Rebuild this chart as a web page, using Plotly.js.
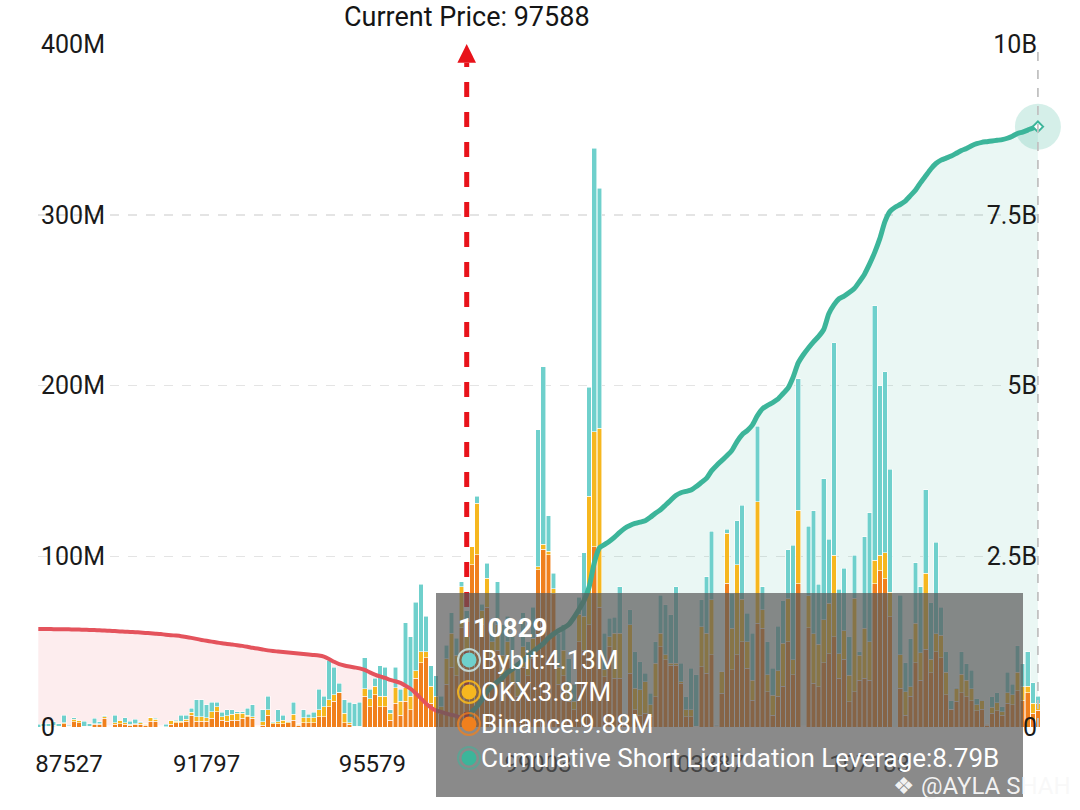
<!DOCTYPE html>
<html>
<head>
<meta charset="utf-8">
<script src="https://cdn.plot.ly/plotly-3.0.1.min.js"></script>
<style>html,body{margin:0;padding:0;background:#fff}#chart{width:1080px;height:810px}</style>
</head>
<body>
<div id="chart"></div>
<script>
// ---------------- data (in millions / billions) ----------------
const binance = [0,0.5,0.5,0.5,0.5,2,0.5,3,2.5,0.5, 0.5,1.5,1.5,5,0.3,1.5,2,1.5,1,1.5, 1.5,1,3.5,3.5,0.3,0.2,1.5,2.5,2.5,3.5,
 7,3.5,3.5,3.5,5,9,4,3.5,4,4, 5,6,5,0.3,1,7,2,2,2,2.5, 4,1,2.5,2.5,2.5,6,6,12,15,20,
 2.5,1.5,0.5,0.5,18,12,19,12,12,4, 14,7,15,10,28.5,37.5,40.5,14,10,8, 25,35,30,58,45,95,101,60,70,40,
 45,30,40,25,18,35,30,40,92,104, 101,78,25,30,15,10,50,45,60,105.7, 70,29.5,47,28.5,28.5,1,31.4,10,7,8,
 6,17.8,47,39.3,36.3,36.3,25.6,6,6,0.5, 35.4,31.4,42.2,0.5,19.7,84.2,33.4,42.2,50,34.4, 15.8,60.7,57.8,20.7,7,18,24,50,30.5,84,
 0.3,58,25.6,23.6,37.7,42.8,53,28.5,39.6,14.8, 20.7,27.5,28.5,27.5,84,91.5,86.9,64.6,0,22.7, 7,18,37.7,27.5,45.5,31.8,44,40.5,19,10.5,
 15,20,17.7,15.3,9.4,10.5,1,8,9.4,7, 14,13,21.3,15.3,20,8,9.88];
const okx = [0,0,0,0.5,0,0.5,0,1.5,1.5,0, 0,0.5,0.5,1,0,1,2,1,0.5,0.5, 1,0.5,2,1,0,0,2.5,1,1,1,
 1.5,2.5,2.5,2,4,3,2,3,3.5,4, 3,1,1,0,2,3,0.5,1,2,0.5, 3.5,0.5,3,3,3,4,6,4,4,0.5,
 5.5,1,0,0,4.5,4.5,5,6,6,4, 9,8,8,8,4.5,6.5,3.5,10,8,4, 15,20,12,24,15,10.6,30,8,17,10,
 15,12,10,10,8,12,10,12,2,3, 2,3,10,15,10,5,16,20,75,67.3, 105,3.9,6,26.4,26.4,0.5,28.4,12.7,14.7,18.6,
 6.9,19.5,7.9,2.9,1,1,1,4,4,0, 23.4,23.5,32.2,0.3,12.7,29.3,24.4,52.7,24.8,15.6, 11.7,71.3,10.8,9.8,11.7,15,25,25,9,43,
 0,19,29,25,25,29.7,47.7,14.3,16.8,15.6, 54.7,14.6,29.3,22.5,13.8,9.2,15.1,14.4,0,19.5, 13.7,5.5,23,16,44.5,7.8,10.7,13.2,13,0,
 7.5,11,9.6,7.2,3.6,4.8,0.5,3.6,4.8,2, 6,6,10.8,8.4,4,6,3.87];
const bybit = [1.5,1.5,1.5,2.2,1.5,4.5,0.5,1,0,3, 1.5,3,1,0.5,0.5,4.5,0,3,2,2.5, 0.5,0.5,0,0.5,0.5,1.5,0,0.5,3.5,2.5,
 2.5,10,10,7.5,5.5,2.5,2.5,3.5,2.5,1, 1,4,7,0.5,7,8,0.5,7,3,0.5, 7,0.5,4.5,2,3,12,6,23,16,5,
 8,12,13,14,18,5.5,4.5,18,17,2, 12,7,38,35,40,39.5,21,12,12,6, 8,12,10,3,8,0,4,4,9,12,
 25,18,15,20,12,20,10,18,80,104, 20.6,9,20,15,15,10,10,37,64,166, 140.5,21.5,10.7,9.4,27.3,0.5,8.8,21.4,16.6,4.8,
 6.8,12.7,22.4,29.3,28.3,44.9,10.7,7.8,24.4,30, 15.6,33.2,40.1,0.5,0,2.3,20.5,25.8,55.2,16.6, 27.4,44,13.6,19.5,15.6,26,25,28.7,67,77,
 0.3,40.7,72,35,82.6,37.5,124.3,37.8,36.6,22.5, 25.3,2,53.7,75.6,149,99.3,106,72,0,35, 17,28.3,35.5,38.7,49,33.2,53.6,16.3,12,4.8,
 0.5,13,9.6,10.8,3.6,0.5,0.5,6.2,6,3, 12,6,15.6,13.2,20,12,4.13];

// cumulative long liquidation (billions), bins left of current price
const longCum = [1.435,1.435,1.434,1.433,1.432,1.431,1.430,1.428,1.426,1.424,
 1.422,1.420,1.416,1.412,1.408,1.404,1.400,1.396,1.392,1.388,
 1.383,1.378,1.372,1.366,1.360,1.352,1.345,1.338,1.330,1.318,
 1.305,1.290,1.275,1.262,1.250,1.237,1.226,1.215,1.207,1.198,
 1.188,1.175,1.160,1.148,1.135,1.122,1.112,1.105,1.097,1.090,
 1.082,1.075,1.068,1.060,1.054,1.046,1.030,0.995,0.955,0.920,
 0.900,0.885,0.872,0.858,0.835,0.800,0.768,0.740,0.718,0.690,
 0.670,0.645,0.605,0.560,0.495,0.420,0.345,0.285,0.240,0.220,
 0.195,0.178,0.160,0.130];
// cumulative short liquidation (billions), bins right of current price
const shortCum = [0.12,0.22,0.30,0.40,0.52,0.60,0.66,0.72,0.80,0.85,
 0.91,0.97,1.03,1.10,1.16,1.22,1.30,1.36,1.41,1.45,
 1.50,1.60,1.72,1.85,2.05,2.40,2.62,2.67,2.72,2.78,
 2.85,2.91,2.95,2.98,3.00,3.02,3.07,3.13,3.18,3.25,
 3.32,3.39,3.43,3.45,3.47,3.52,3.58,3.64,3.75,3.83,
 3.90,3.97,4.05,4.18,4.28,4.34,4.42,4.56,4.66,4.71,
 4.75,4.80,4.88,4.96,5.12,5.33,5.45,5.55,5.64,5.72,
 5.82,6.05,6.18,6.27,6.31,6.36,6.42,6.52,6.63,6.78,
 6.95,7.15,7.40,7.55,7.61,7.65,7.70,7.78,7.86,7.97,
 8.07,8.17,8.25,8.30,8.33,8.36,8.40,8.44,8.47,8.51,
 8.54,8.56,8.57,8.58,8.59,8.60,8.62,8.65,8.69,8.71,
 8.74,8.77,8.79];

const tickIdx = [6, 33, 65.5, 98, 130.5, 163];
const tickLabels = ['87527','91797','95579','99003','103387','107183'];
const leftTicks = [0, 100, 200, 300, 400];           // millions
const leftTickText = ['0','100M','200M','300M','400M'];
const rightTicks = [0, 2.5, 5, 7.5, 10];              // billions
const rightTickText = ['0','2.5B','5B','7.5B','10B'];
const currentPrice = 97588;
const currentIdx = 84;       // bin position of current price
const hover = {price: '110829', bybit: '4.13M', okx: '3.87M', binance: '9.88M', cum: '8.79B'};

// ---------------- build ----------------
const N = binance.length;
const idx = binance.map((_, i) => i);
const longX = longCum.map((_, i) => i);
const shortX = shortCum.map((_, i) => currentIdx + i);
const M = v => v * 1e6, Bn = v => v * 1e9;
const hoverIdx = N - 1;

const COL = {binance:'#f0801d', okx:'#f6b71f', bybit:'#6fd0cc', long:'#e4535c', short:'#3cb59a'};
const barLine = {color:'rgba(255,255,255,0.95)', width:0.6};

const traces = [
  {x: longX, y: longCum.map(Bn), yaxis:'y', type:'scatter', mode:'lines', line:{width:0}, fill:'tozeroy', fillcolor:'rgba(236,90,100,0.11)', hoverinfo:'skip', showlegend:false},
  {x: shortX, y: shortCum.map(Bn), yaxis:'y', type:'scatter', mode:'lines', line:{width:0}, fill:'tozeroy', fillcolor:'rgba(62,181,155,0.11)', hoverinfo:'skip', showlegend:false},
  {x: idx, y: binance.map(M), yaxis:'y2', type:'bar', name:'Binance', marker:{color:COL.binance, line:barLine}},
  {x: idx, y: okx.map(M), yaxis:'y2', type:'bar', name:'OKX', marker:{color:COL.okx, line:barLine}},
  {x: idx, y: bybit.map(M), yaxis:'y2', type:'bar', name:'Bybit', marker:{color:COL.bybit, line:barLine}},
  {x: longX, y: longCum.map(Bn), yaxis:'y3', type:'scatter', mode:'lines', line:{color:COL.long, width:4, shape:'spline', smoothing:0.6}, name:'Cumulative Long'},
  {x: shortX, y: shortCum.map(Bn), yaxis:'y3', type:'scatter', mode:'lines', line:{color:COL.short, width:5, shape:'spline', smoothing:0.6}, name:'Cumulative Short'},
  {x: [hoverIdx], y: [Bn(shortCum[shortCum.length-1])], yaxis:'y3', type:'scatter', mode:'markers', marker:{size:46, color:'rgba(62,181,155,0.22)'}, cliponaxis:false},
  {x: [hoverIdx], y: [Bn(shortCum[shortCum.length-1])], yaxis:'y3', type:'scatter', mode:'markers', marker:{size:8, symbol:'diamond', color:'#ffffff', line:{color:COL.short, width:2}}, cliponaxis:false}
];

const L = 38, R = 1040, T = 44, B = 727;
const px = x => (x - L) / (R - L);
const py = y => (B - y) / (B - T);
const unitPx = (R - L) / 196.47;

const shapes = [
  // hover pointer
  {type:'line', xref:'x', yref:'paper', x0:hoverIdx, x1:hoverIdx, y0:0, y1:1, line:{color:'#c2c2c2', width:1.8, dash:'dash'}, layer:'above'},
  // current price arrow
  {type:'line', xref:'x', yref:'y2', x0:currentIdx, x1:currentIdx, y0:0, y1:M(389), line:{color:'#e8121a', width:5, dash:'dash'}, layer:'above'},
  {type:'path', xref:'x', yref:'y2', layer:'above', fillcolor:'#e8121a', line:{width:0},
   path:`M ${currentIdx - 9.3/unitPx},${M(389)} L ${currentIdx + 9.3/unitPx},${M(389)} L ${currentIdx},${M(400)} Z`},
  // tooltip box
  {type:'rect', xref:'paper', yref:'paper', x0:px(436), x1:px(1023), y0:py(797), y1:py(593), fillcolor:'rgba(88,88,88,0.70)', line:{width:0}, layer:'above'}
];

const rows = [
  {y:660, fill:COL.bybit, ring:'rgba(200,225,225,0.9)', text:'Bybit:' + hover.bybit},
  {y:692, fill:COL.okx, ring:'rgba(246,183,31,0.9)', text:'OKX:' + hover.okx},
  {y:724, fill:COL.binance, ring:'rgba(240,128,29,0.75)', text:'Binance:' + hover.binance},
  {y:758, fill:COL.short, ring:'rgba(62,181,155,0.55)', text:'Cumulative Short Liquidation Leverage:' + hover.cum}
];
const annotations = [
  {xref:'x', yref:'paper', x:currentIdx, y:1, yanchor:'bottom', yshift:9, showarrow:false,
   text:'Current Price: ' + currentPrice, font:{family:'Roboto', size:27, color:'#151515'}},
  {xref:'paper', yref:'paper', x:px(456), y:py(628), xanchor:'left', yanchor:'middle', showarrow:false,
   text:'<b>' + hover.price + '</b>', font:{family:'Roboto', size:26, color:'#ffffff'}},
  {xref:'paper', yref:'paper', x:px(891), y:py(786), xanchor:'left', yanchor:'middle', showarrow:false,
   text:'❖ @AYLA SHAH', font:{family:'Roboto', size:24, color:'rgba(248,248,248,0.95)'}}
];
rows.forEach(r => {
  const cx = 469, r1 = 11, r2 = 7.5;
  shapes.push({type:'circle', xref:'paper', yref:'paper', x0:px(cx-r1), x1:px(cx+r1), y0:py(r.y+r1), y1:py(r.y-r1), line:{color:r.ring, width:2}, fillcolor:'rgba(0,0,0,0)', layer:'above'});
  shapes.push({type:'circle', xref:'paper', yref:'paper', x0:px(cx-r2), x1:px(cx+r2), y0:py(r.y+r2), y1:py(r.y-r2), line:{width:0}, fillcolor:r.fill, layer:'above'});
  annotations.push({xref:'paper', yref:'paper', x:px(479), y:py(r.y), xanchor:'left', yanchor:'middle', showarrow:false,
   text:r.text, font:{family:'Roboto', size:26, color:'#ffffff'}});
});

const tickFont = {family:'Roboto', size:24, color:'#1a1a1a'};
const yTickFont = {family:'Roboto', size:25, color:'#1a1a1a'};
const layout = {
  width:1080, height:810,
  margin:{l:L, r:1080-R, t:T, b:810-B},
  paper_bgcolor:'#ffffff', plot_bgcolor:'#ffffff',
  showlegend:false, hovermode:false,
  barmode:'stack', bargap:0.1,
  font:{family:'Roboto'},
  xaxis:{range:[-0.06, 196.41], tickmode:'array', tickvals:tickIdx, ticktext:tickLabels, ticks:'', showgrid:false,
         zeroline:false, showline:false, tickfont:tickFont, ticklabelstandoff:20, ticklabeloverflow:'allow'},
  yaxis:{range:[0, 10e9], side:'right', tickmode:'array', tickvals:rightTicks.map(Bn), ticktext:rightTickText,
         ticklabelposition:'inside', ticklabeloverflow:'allow', showgrid:false, zeroline:false, showline:false, ticks:'', tickfont:yTickFont},
  yaxis2:{range:[0, 400e6], overlaying:'y', side:'left', tickmode:'array', tickvals:leftTicks.map(M), ticktext:leftTickText,
         ticklabelposition:'inside', ticklabeloverflow:'allow', showgrid:true, gridcolor:'#e4e4e4', gridwidth:1.5, griddash:'dash',
         zeroline:false, showline:false, ticks:'', tickfont:yTickFont},
  yaxis3:{range:[0, 10e9], overlaying:'y', visible:false},
  shapes, annotations
};

Plotly.newPlot('chart', traces, layout, {staticPlot:true, displayModeBar:false});
</script>
</body>
</html>
